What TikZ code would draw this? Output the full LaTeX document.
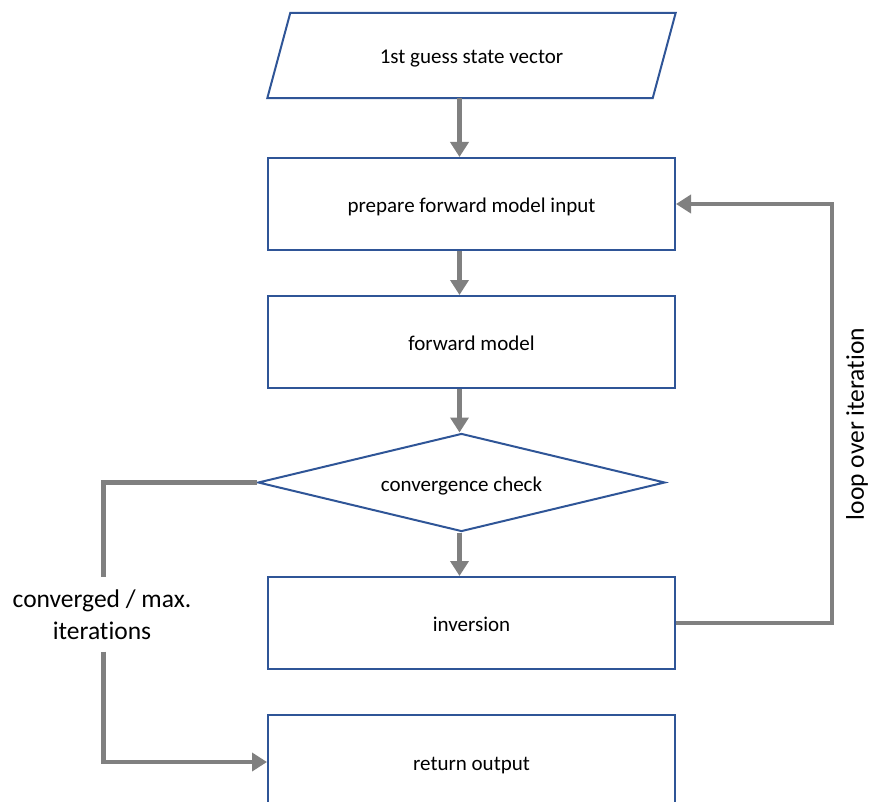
\documentclass[tikz,border=0pt]{standalone}
\usepackage{fontspec}
\setmainfont{Carlito}[Ligatures=NoCommon]
\usetikzlibrary{shapes.geometric,arrows.meta}
\definecolor{boxblue}{RGB}{47,85,151}
\definecolor{flowgray}{RGB}{128,128,128}
\begin{document}
\begin{tikzpicture}[x=1pt,y=-1pt,
  boxtext/.style={font=\fontsize{21}{25}\selectfont, text height=21pt, text depth=4pt},
  stepbox/.style={boxtext, draw=boxblue, line width=2pt, rectangle,
    minimum width=407pt, minimum height=92pt, inner sep=0pt, fill=white},
  decision/.style={boxtext, draw=boxblue, line width=2pt, diamond, aspect=4.15,
    minimum width=407pt, minimum height=98pt, inner sep=0pt, fill=white},
  link/.style={draw=flowgray, line width=4.5pt},
  flow/.style={link, -{Triangle[length=15pt,width=18pt]}},
  sidelabel/.style={font=\fontsize{25.5}{32}\selectfont, align=center}
]
\useasboundingbox (0,0) rectangle (872,802);
\clip (0,0) rectangle (872,802);

% helper columns for the connectors
\coordinate (axis) at (459.5,0);
\coordinate (leftx) at (103.5,0);
\coordinate (loopx) at (832,0);

% input parallelogram
\node[boxtext, minimum width=385pt, minimum height=85pt, inner sep=0pt] (guess) at (471.5,55.5) {1st guess state vector};
\draw[draw=boxblue, line width=2pt, line join=miter]
  ([xshift=11.5pt]guess.north west) -- ([xshift=11.5pt]guess.north east)
  -- ([xshift=-11.5pt]guess.south east) -- ([xshift=-11.5pt]guess.south west) -- cycle;

% process steps
\node[stepbox] (prep) at (471.5,204) {prepare forward model input};
\node[stepbox] (fwd) at (471.5,342) {forward model};
\node[decision] (conv) at (461.5,482.5) {convergence check};
\node[stepbox] (inv) at (471.5,623) {inversion};
\node[stepbox, minimum height=94pt] (out) at (471.5,762) {return output};

% main flow
\draw[flow] (guess.south -| axis) -- (prep.north -| axis);
\draw[flow] (prep.south -| axis) -- (fwd.north -| axis);
\draw[flow] (fwd.south -| axis) -- (conv.north -| axis);
\draw[flow] (conv.south -| axis) -- (inv.north -| axis);

% iteration loop
\draw[flow, line join=miter] (inv.east) -- (inv.east -| loopx) -- (prep.east -| loopx) -- (prep.east);
\node[sidelabel, rotate=90] (looplab) at (857,424) {loop over iteration};

% exit branch
\node[sidelabel, minimum height=74pt, inner sep=0pt] (exitlab) at (102,614.5) {converged / max.\\iterations};
\draw[link, line join=miter] (conv.west) -- (conv.west -| leftx) -- (exitlab.north -| leftx);
\draw[flow, line join=miter] (exitlab.south -| leftx) -- (out.west -| leftx) -- (out.west);
\end{tikzpicture}
\end{document}
